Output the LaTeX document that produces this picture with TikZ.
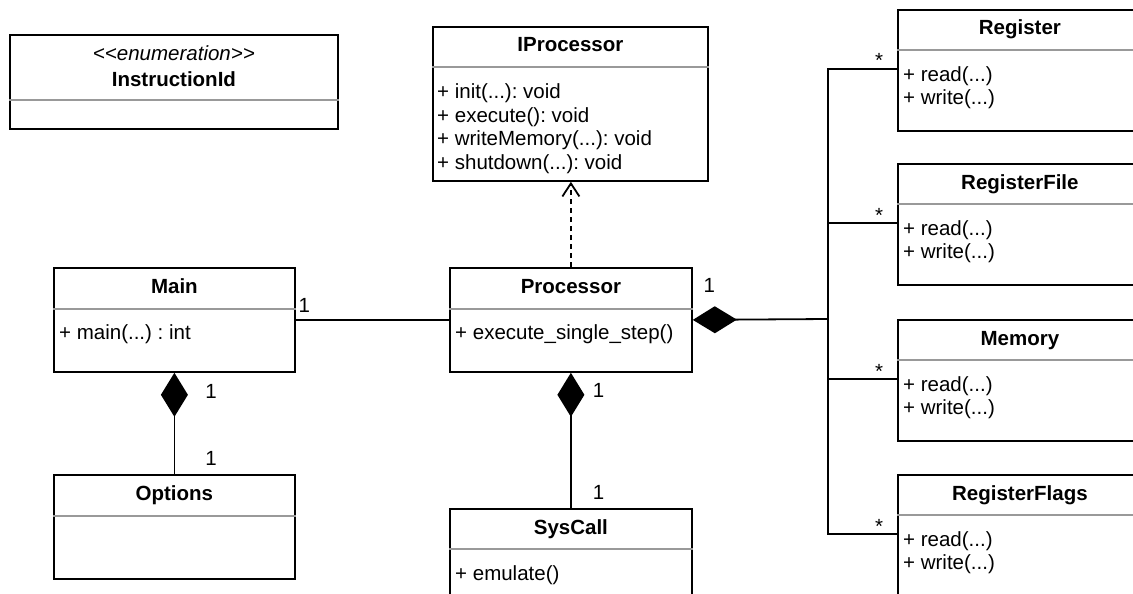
\documentclass[tikz,border=0pt]{standalone}
\usepackage{fontspec}
\setmainfont{Liberation Sans}
\usepackage{tikz}
\tikzset{x=1pt,y=-1pt}
\usetikzlibrary{arrows.meta, calc}
\frenchspacing

\begin{document}
\begin{tikzpicture}[
    class/.style={draw, line width=1.8pt, anchor=north west, inner sep=0pt},
    cname/.style={anchor=base, font=\bfseries},
    ops/.style={anchor=base west, align=left, inner sep=0pt},
    divider/.style={draw=black!40, line width=1.8pt},
    link/.style={line width=1.8pt},
    owns/.style={link, -{Diamond[length=44pt,width=27pt]}},
    realizes/.style={link, dash pattern=on 5pt off 4pt, -{Straight Barb[length=13pt,width=17pt]}},
    mult/.style={inner sep=0pt, anchor=base west}]
\useasboundingbox (0,0) rectangle (1133,594);
\fontsize{20.5}{23.5}\selectfont

% enumeration
\node[class, minimum width=328, minimum height=94] (instrid) at (9,34) {};
\node[anchor=base, font=\itshape] (instrid-st) at ([yshift=-26pt]instrid.north) {<{}<enumeration>{}>};
\node[cname] (instrid-t) at ([yshift=-52pt]instrid.north) {InstructionId};
\draw[divider] ([yshift=-66pt]instrid.north west) -- ([yshift=-66pt]instrid.north east);

% interface (ops anchored at baseline of last line)
\node[class, minimum width=275, minimum height=154] (iproc) at (432,26) {};
\node[cname] (iproc-t) at ([yshift=-26pt]iproc.north) {IProcessor};
\draw[divider] ([yshift=-41pt]iproc.north west) -- ([yshift=-41pt]iproc.north east);
\node[ops] (iproc-o) at ([xshift=5pt,yshift=-143pt]iproc.north west)
    {+ init(...): void\\+ execute(): void\\+ writeMemory(...): void\\+ shutdown(...): void};

% main + options
\node[class, minimum width=241, minimum height=104] (main) at (53,267) {};
\node[cname] (main-t) at ([yshift=-26pt]main.north) {Main};
\draw[divider] ([yshift=-42pt]main.north west) -- ([yshift=-42pt]main.north east);
\node[ops] (main-o) at ([xshift=6pt,yshift=-72pt]main.north west) {+ main(...) : int};

\node[class, minimum width=241, minimum height=104] (options) at (53,474) {};
\node[cname] (options-t) at ([yshift=-26pt]options.north) {Options};
\draw[divider] ([yshift=-42pt]options.north west) -- ([yshift=-42pt]options.north east);

% processor + syscall
\node[class, minimum width=242, minimum height=104] (processor) at (449,267) {};
\node[cname] (processor-t) at ([yshift=-26pt]processor.north) {Processor};
\draw[divider] ([yshift=-42pt]processor.north west) -- ([yshift=-42pt]processor.north east);
\node[ops] (processor-o) at ([xshift=6pt,yshift=-72pt]processor.north west) {+ execute\_single\_step()};

\node[class, minimum width=242, minimum height=104] (syscall) at (449,508) {};
\node[cname] (syscall-t) at ([yshift=-26pt]syscall.north) {SysCall};
\draw[divider] ([yshift=-41pt]syscall.north west) -- ([yshift=-41pt]syscall.north east);
\node[ops] (syscall-o) at ([xshift=6pt,yshift=-72pt]syscall.north west) {+ emulate()};

% connectors
\draw[link] (main) -- (processor)
    node[mult, pos=0, xshift=2pt, yshift=7pt] (m-1) {1};
\draw[owns] (options) -- (main)
    node[mult, pos=1, xshift=30pt, yshift=-26pt] (mo-1) {1}
    node[mult, pos=0, xshift=30pt, yshift=9pt] (mo-2) {1};
\draw[owns] (syscall) -- (processor)
    node[mult, pos=1, xshift=21pt, yshift=-25pt] (ps-1) {1}
    node[mult, pos=0, xshift=21pt, yshift=9pt] (ps-2) {1};
\draw[realizes] (processor.north) -- (processor.north |- iproc.south);

\coordinate (hub) at (828,319);
\draw[owns] (hub) -- (processor.east)
    node[mult, pos=1, anchor=south west, xshift=10pt, yshift=27pt] (pr-1) {1};

% register side
\foreach \name/\top/\title in {register/9/Register, regfile/163/RegisterFile,
                               memory/319/Memory, regflags/474/RegisterFlags} {
  \node[class, minimum width=244, minimum height=121] (\name) at (897,\top) {};
  \node[cname] (\name-t) at ([yshift=-26pt]\name.north) {\title};
  \draw[divider] ([yshift=-41pt]\name.north west) -- ([yshift=-41pt]\name.north east);
  \node[ops] (\name-o) at ([xshift=6pt,yshift=-95.5pt]\name.north west) {+ read(...)\\+ write(...)};
  \draw[link] (hub) |- ([yshift=-60pt]\name.north west)
      node[mult, pos=1, anchor=base east, xshift=-13pt, yshift=1pt] (\name-m) {*};
}
\end{tikzpicture}
\end{document}
